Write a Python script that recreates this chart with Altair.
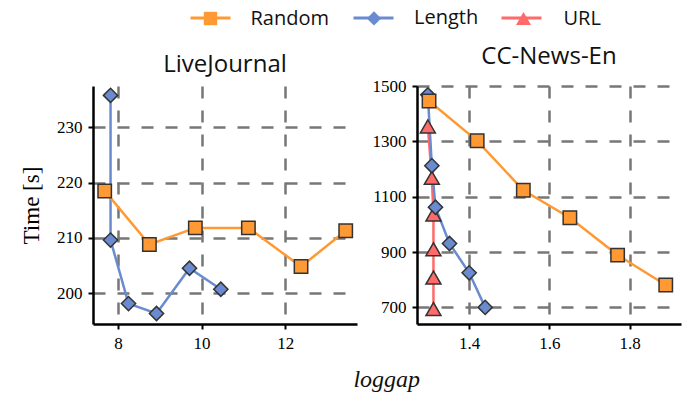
import altair as alt
import pandas as pd

series_order = ["Random", "Length", "URL"]
series_colors = ["#FF9933", "#6A8BD0", "#FF6B6B"]
series_shapes = ["square", "diamond", "triangle-up"]
series_sizes = [180, 225, 289]

# LiveJournal panel
lj_random_x = [7.68, 8.75, 9.85, 11.12, 12.38, 13.45]
lj_random_y = [218.5, 208.8, 211.8, 211.8, 204.8, 211.3]
lj_length_x = [7.82, 7.82, 8.25, 8.92, 9.71, 10.46]
lj_length_y = [235.8, 209.6, 198.1, 196.3, 204.5, 200.7]

# CC-News-En panel
cc_random_x = [1.30, 1.42, 1.535, 1.651, 1.77, 1.89]
cc_random_y = [1446, 1302, 1123, 1024, 889, 781]
cc_length_x = [1.297, 1.307, 1.316, 1.351, 1.40, 1.44]
cc_length_y = [1468, 1212, 1062, 931, 825, 700]
cc_url_x = [1.297, 1.307, 1.311, 1.311, 1.311, 1.311]
cc_url_y = [1354, 1168, 1036, 910, 808, 694]

lj_x_ticks = [8, 10, 12]
lj_y_ticks = [200, 210, 220, 230]
cc_x_ticks = [1.4, 1.6, 1.8]
cc_y_ticks = [700, 900, 1100, 1300, 1500]


def rows(series, xs, ys):
    return [{"series": series, "series_p": series, "idx": i, "x": x, "y": y}
            for i, (x, y) in enumerate(zip(xs, ys))]


# draw order: URL at bottom, Random on top
df_lj = pd.DataFrame(rows("Length", lj_length_x, lj_length_y) +
                     rows("Random", lj_random_x, lj_random_y))
df_cc = pd.DataFrame(rows("URL", cc_url_x, cc_url_y) +
                     rows("Length", cc_length_x, cc_length_y) +
                     rows("Random", cc_random_x, cc_random_y))

SANS = "Open Sans"
SERIF = "Liberation Serif"

LEG_FS = 20
LEG_X = 96
ROW_H = LEG_FS    # row height of the marker legend (font size dominates)
LEG_Y = -69 - ROW_H // 2 + 1
S_LINE = 43       # ceil(sqrt(1600) + 3)
S_PT = LEG_FS
delta = (S_LINE - S_PT) / 2
LO = 18.5
CP = 22

line_legend = alt.Legend(
    orient="none", legendX=LEG_X, legendY=LEG_Y, direction="horizontal",
    title=None, symbolType="stroke", symbolSize=1600, symbolStrokeWidth=3,
    labelOpacity=0, labelFont=SANS, labelFontSize=LEG_FS, labelOffset=LO,
    columnPadding=CP, clipHeight=ROW_H,
)
point_legend = alt.Legend(
    orient="none", legendX=LEG_X + delta, legendY=LEG_Y, direction="horizontal",
    title=None, symbolStrokeColor="#333333", symbolStrokeWidth=1.5,
    symbolOpacity=1,
    labelFont=SANS, labelFontSize=LEG_FS, labelOffset=LO + delta, labelColor="#111111",
    columnPadding=CP + delta,
)


def panel(df, title, xdom, xvals, ydom, yvals, ytitle):
    base = alt.Chart(df)
    x = alt.X("x:Q", scale=alt.Scale(domain=xdom, nice=False, zero=False),
              axis=alt.Axis(values=xvals, title=None))
    y = alt.Y("y:Q", scale=alt.Scale(domain=ydom, nice=False, zero=False),
              axis=alt.Axis(values=yvals, title=ytitle, format="d"))
    line = base.mark_line(strokeWidth=2.5).encode(
        x=x, y=y,
        color=alt.Color("series:N", sort=series_order,
                        scale=alt.Scale(range=series_colors),
                        legend=line_legend),
        order="idx:Q",
    )
    pts = base.mark_point(filled=True, stroke="#333333", strokeWidth=1.5, opacity=1).encode(
        x=x, y=y,
        fill=alt.Fill("series_p:N", scale=alt.Scale(domain=series_order, range=series_colors),
                      legend=point_legend),
        shape=alt.Shape("series_p:N", scale=alt.Scale(domain=series_order, range=series_shapes),
                        legend=point_legend),
        size=alt.Size("series_p:N", scale=alt.Scale(domain=series_order, range=series_sizes),
                      legend=point_legend),
    )
    return alt.layer(line, pts).properties(
        width=264, height=238,
        title=alt.TitleParams(title, font=SANS, fontSize=24, fontWeight="normal",
                              anchor="middle", frame="group", offset=8, color="#111111"),
    )


left = panel(df_lj, "LiveJournal", [7.4, 13.72], lj_x_ticks, [194.4, 237.5], lj_y_ticks, "Time [s]")
right = panel(df_cc, "CC-News-En", [1.27, 1.928], cc_x_ticks, [640, 1500], cc_y_ticks, None)

chart = alt.hconcat(left, right, spacing=15).properties(
    padding={"left": 12, "top": 0, "right": 4, "bottom": 4},
    title=alt.TitleParams("loggap", orient="bottom", anchor="middle", font=SERIF,
                          fontStyle="italic", fontSize=24, fontWeight="normal",
                          offset=17, dx=36, color="#111111"),
).configure_view(stroke=None).configure_axis(
    domainColor="black", domainWidth=2.5, tickColor="black", tickWidth=2, tickSize=5,
    gridColor="#777777", gridDash=[12, 12], gridWidth=2.5,
    labelFont=SERIF, labelFontSize=17, labelColor="black", labelPadding=6,
    titleFont=SERIF, titleFontSize=23, titleFontWeight="normal", titleColor="black",
    titlePadding=13,
)

chart.save("out.html", embed_options={"renderer": "svg", "actions": False})
